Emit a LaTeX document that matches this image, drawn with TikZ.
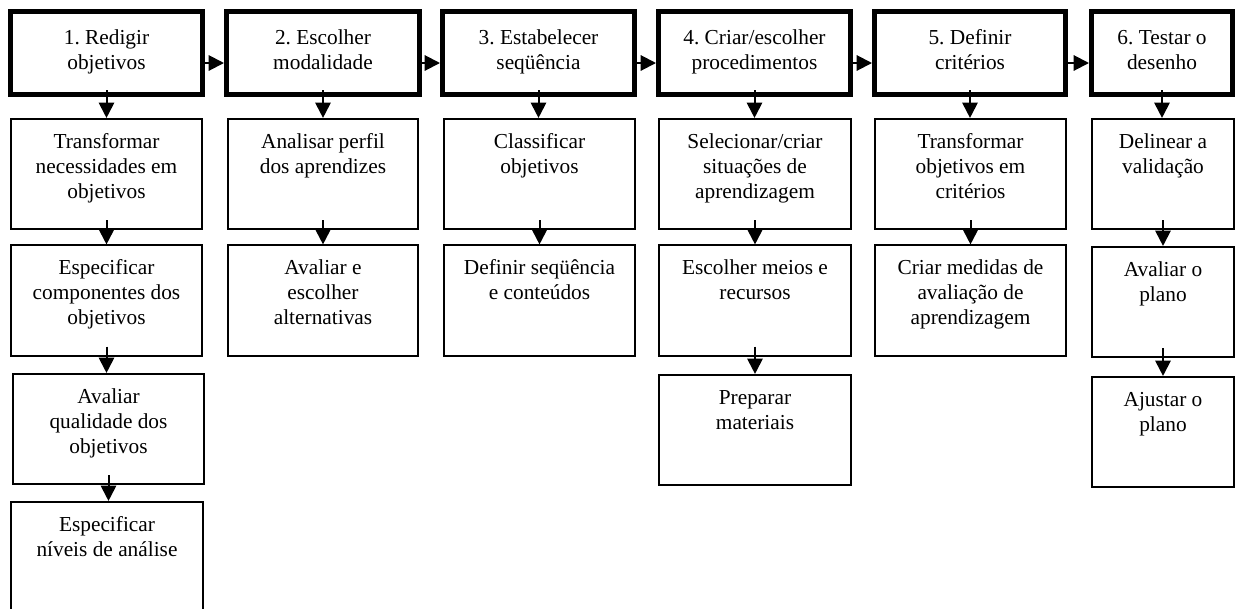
\documentclass[tikz,border=0pt]{standalone}
\usepackage{fontspec}
\setmainfont{Liberation Serif}
\usetikzlibrary{arrows.meta,calc}
\frenchspacing
\newcommand{\bxt}[4]{\parbox[c][#2][t]{#1}{\centering\frenchspacing\rule{0pt}{#3}#4}}
\newcommand{\hdtxt}[2]{\bxt{#1}{62.25pt}{24.5pt}{#2}}
\newcommand{\sttxt}[2]{\bxt{#1}{82.9pt}{22pt}{#2}}
\tikzset{
  headbox/.style={draw, line width=3.75pt, inner sep=0pt, font=\fontsize{16}{18.75}\selectfont},
  stepbox/.style={draw, line width=1.2pt, inner sep=0pt, font=\fontsize{16}{18.75}\selectfont},
  arr/.style={line width=1.5pt, -{Triangle[length=11.5pt,width=11.5pt]}},
}
\begin{document}
\begin{tikzpicture}[x=0.75pt,y=-0.75pt]
\useasboundingbox (0,0) rectangle (1238,608);
% head row
\node[headbox] (h1) at (106.5,53) {\hdtxt{144pt}{1. Redigir\\objetivos}};
\node[headbox] (h2) at (323,53)   {\hdtxt{144.75pt}{2. Escolher\\modalidade}};
\node[headbox] (h3) at (538.5,53) {\hdtxt{144pt}{3. Estabelecer\\seqüência}};
\node[headbox] (h4) at (754.5,53) {\hdtxt{144pt}{4. Criar/escolher\\procedimentos}};
\node[headbox] (h5) at (970,53)   {\hdtxt{143.25pt}{5. Definir\\critérios}};
\node[headbox] (h6) at (1162,53)  {\hdtxt{105.75pt}{6. Testar o\\desenho}};
% column 1
\node[stepbox] (s11) at (106.5,174)   {\sttxt{143.6pt}{Transformar\\necessidades em\\objetivos}};
\node[stepbox] (s12) at (106.5,300.5) {\sttxt{143.6pt}{Especificar\\componentes dos\\objetivos}};
\node[stepbox] (s13) at (108.5,429)   {\sttxt{143.6pt}{Avaliar\\qualidade dos\\objetivos}};
\node[stepbox] (s14) at (107,557)     {\sttxt{143.6pt}{Especificar\\níveis de análise}};
% column 2
\node[stepbox] (s21) at (323,174)   {\sttxt{142.9pt}{Analisar perfil\\dos aprendizes}};
\node[stepbox] (s22) at (323,300.5) {\sttxt{142.9pt}{Avaliar e\\escolher\\alternativas}};
% column 3
\node[stepbox] (s31) at (539.5,174)   {\sttxt{143.6pt}{Classificar\\objetivos}};
\node[stepbox] (s32) at (539.5,300.5) {\sttxt{143.6pt}{Definir seqüência\\e conteúdos}};
% column 4
\node[stepbox] (s41) at (755,174)   {\sttxt{144.4pt}{Selecionar/criar\\situações de\\aprendizagem}};
\node[stepbox] (s42) at (755,300.5) {\sttxt{144.4pt}{Escolher meios e\\recursos}};
\node[stepbox] (s43) at (755,430)   {\sttxt{144.4pt}{Preparar\\materiais}};
% column 5
\node[stepbox] (s51) at (970.5,174)   {\sttxt{143.6pt}{Transformar\\objetivos em\\critérios}};
\node[stepbox] (s52) at (970.5,300.5) {\sttxt{143.6pt}{Criar medidas de\\avaliação de\\aprendizagem}};
% column 6
\node[stepbox] (s61) at (1163,174) {\sttxt{106.9pt}{Delinear a\\validação}};
\node[stepbox] (s62) at (1163,302) {\sttxt{106.9pt}{Avaliar o\\plano}};
\node[stepbox] (s63) at (1163,432) {\sttxt{106.9pt}{Ajustar o\\plano}};
% horizontal arrows
\foreach \a/\b in {h1/h2,h2/h3,h3/h4,h4/h5,h5/h6}
  \draw[arr] ($(\a.east)+(0,10)$) -- ($(\b.west)+(0,10)$);
% vertical arrows from heads
\foreach \a/\b in {h1/s11,h2/s21,h3/s31,h4/s41,h5/s51,h6/s61}
  \draw[arr] ($(\a.south)+(0,-7)$) -- (\a.south |- \b.north);
% vertical arrows between steps
\foreach \a/\b in {s11/s12,s12/s13,s13/s14,s21/s22,s31/s32,s41/s42,s42/s43,s51/s52,s61/s62,s62/s63}
  \draw[arr] ($(\a.south)+(0,-10)$) -- (\a.south |- \b.north);
\end{tikzpicture}
\end{document}
